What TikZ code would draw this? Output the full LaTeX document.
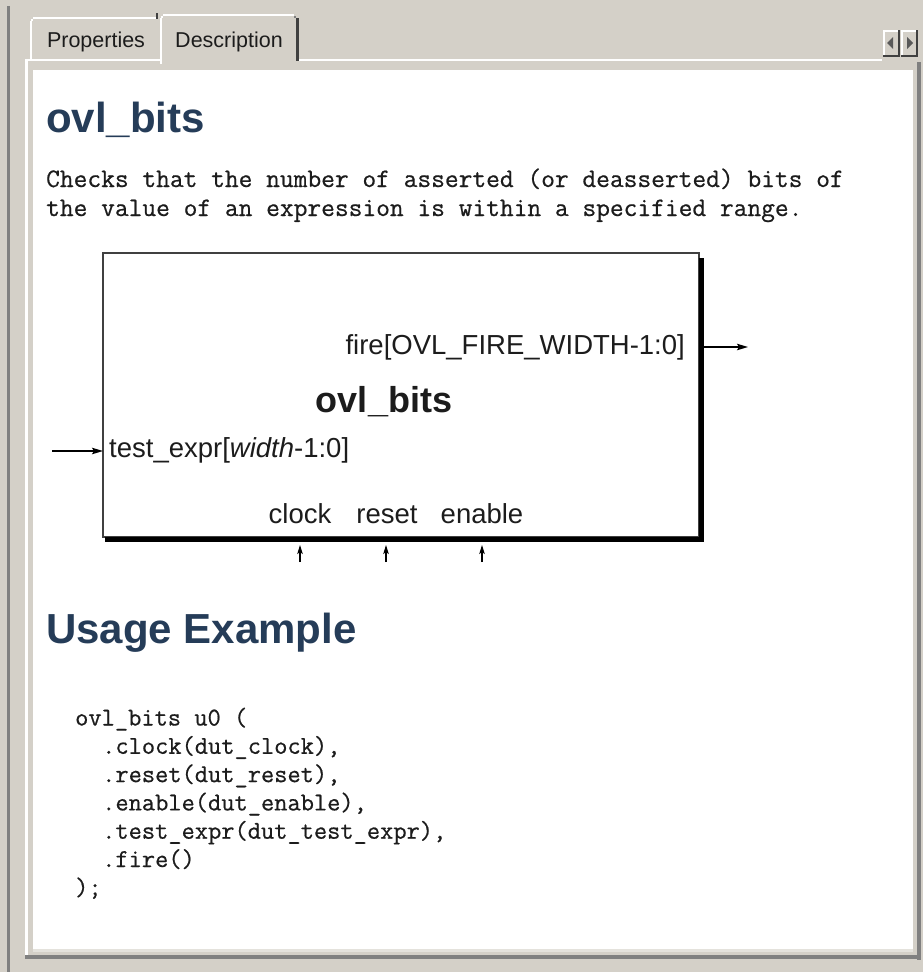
\documentclass[tikz,border=0pt]{standalone}
\usepackage{fontspec}
\setmainfont{Liberation Sans}
\newfontfamily\codemono[FakeBold=0.6]{Latin Modern Mono}
\usetikzlibrary{arrows.meta}
\definecolor{winbg}{HTML}{D4D0C8}
\definecolor{winshade}{HTML}{808080}
\definecolor{windark}{HTML}{404040}
\definecolor{winhi}{HTML}{FFFFFF}
\definecolor{winline}{HTML}{E4E2DC}
\definecolor{headblue}{HTML}{253C58}
\definecolor{ink}{HTML}{1C1C1C}
\begin{document}
\begin{tikzpicture}[x=1pt,y=-1pt,
  sig/.style={line width=1.3pt, draw=black, -{Stealth[length=11pt,width=6.5pt,inset=2pt]}},
  sigshort/.style={line width=1.3pt, draw=black, -{Stealth[length=9pt,width=5.5pt,inset=2pt]}},
  port/.style={font=\fontsize{27.5}{32}\selectfont, text=ink, inner sep=0pt},
  blkname/.style={font=\fontsize{36}{42}\selectfont\bfseries, text=ink, inner sep=0pt, anchor=base},
  heading/.style={font=\fontsize{42}{50}\selectfont\bfseries, text=headblue, inner sep=0pt, anchor=base west},
  prose/.style={font=\codemono\fontsize{26.7}{30}\selectfont, text=ink, inner sep=0pt, anchor=base west},
  code/.style={font=\codemono\fontsize{25.7}{28}\selectfont, text=ink, inner sep=0pt, anchor=base west},
  tablabel/.style={font=\fontsize{21.5}{24}\selectfont, text=ink, inner sep=0pt, anchor=base},
]
\useasboundingbox (0,0) rectangle (923,972);
% window background and outer frame line
\fill[winbg] (0,0) rectangle (923,972);
\fill[winshade] (7,6) rectangle (10,972);

% panel frame and white content area
\fill[winhi] (25,59) rectangle (160,61);
\fill[winhi] (299,59) rectangle (882,61);
\fill[winhi] (25,59) rectangle (28,956);
\fill[winshade] (917,62) rectangle (921,960);
\fill[winshade] (25,955) rectangle (921,959);
\fill[winhi] (33,70) rectangle (913,950);
\fill[winline] (33,949) rectangle (913,952);

% tab: Properties
\fill[winhi] (30,21) rectangle (32,59);
\fill[winhi] (33,17) rectangle (156,19);
\fill[winhi] (31,19) rectangle (33,21);
\fill[windark] (156,13) rectangle (158,19);
\node[tablabel] (tabprop) at (96,47) {Properties};

% tab: Description (selected)
\fill[winhi] (160,18) rectangle (162,64);
\fill[winhi] (163,14) rectangle (294,16);
\fill[winhi] (161,16) rectangle (163,18);
\fill[windark] (296,18) rectangle (299,61);
\fill[winshade] (294,16) rectangle (296,18);
\node[tablabel] (tabdesc) at (229,47) {Description};

% scroll buttons
\fill[windark] (883,30) rectangle (900,57);
\fill[winhi] (883,30) rectangle (898,55);
\fill[winbg] (885,32) rectangle (898,55);
\fill[windark] (901,30) rectangle (918,57);
\fill[winhi] (901,30) rectangle (916,55);
\fill[winbg] (903,32) rectangle (916,55);
\fill[black!65] (887,43) -- (893,37) -- (893,49) -- cycle;
\fill[black!65] (913,43) -- (907,37) -- (907,49) -- cycle;

% heading and description
\node[heading] (title) at (46,132) {ovl\_bits};
\node[prose] (desc1) at (46,187) {Checks that the number of asserted (or deasserted) bits of};
\node[prose] (desc2) at (46,216) {the value of an expression is within a specified range.};

% checker block with drop shadow
\node[draw=black!75, line width=2pt, fill=white, minimum width=596pt, minimum height=284pt,
      inner sep=0pt, outer sep=0pt] (blk) at (401,395) {};
\fill[black] ([yshift=-5pt]blk.north east) rectangle ([xshift=5pt,yshift=-5pt]blk.south east);
\fill[black] ([xshift=2pt]blk.south west) rectangle ([xshift=5pt,yshift=-5pt]blk.south east);

\node[port, anchor=base east] (firelbl) at (685,354) {fire[OVL\_FIRE\_WIDTH-1:0]};
\node[blkname] (blklbl) at (384,412) {ovl\_bits};
\node[port, anchor=base west] (testlbl) at (109,457) {test\_expr[\textit{width}-1:0]};
\node[port, anchor=base] (clklbl) at (300,523) {clock};
\node[port, anchor=base] (rstlbl) at (387,523) {reset};
\node[port, anchor=base] (enlbl) at (482,523) {enable};

% ports
\coordinate (fireend) at (748,347);
\coordinate (testsrc) at (52,451);
\coordinate (clksrc) at (300,562);
\coordinate (rstsrc) at (386,562);
\coordinate (ensrc) at (482,562);
\draw[sig] ([xshift=5pt]blk.east |- fireend) -- (fireend);
\draw[sig] (testsrc) -- (blk.west |- testsrc);
\draw[sigshort] (clksrc) -- ([yshift=-8pt]blk.south -| clksrc);
\draw[sigshort] (rstsrc) -- ([yshift=-8pt]blk.south -| rstsrc);
\draw[sigshort] (ensrc) -- ([yshift=-8pt]blk.south -| ensrc);

% usage example
\node[heading] (usage) at (46,643) {Usage Example};
\node[code] (c1) at (75,725.5) {ovl\_bits u0 (};
\node[code] (c2) at (102,753.8) {.clock(dut\_clock),};
\node[code] (c3) at (102,782.1) {.reset(dut\_reset),};
\node[code] (c4) at (102,810.4) {.enable(dut\_enable),};
\node[code] (c5) at (102,838.7) {.test\_expr(dut\_test\_expr),};
\node[code] (c6) at (102,867.0) {.fire()};
\node[code] (c7) at (75,895.3) {);};
\end{tikzpicture}
\end{document}
